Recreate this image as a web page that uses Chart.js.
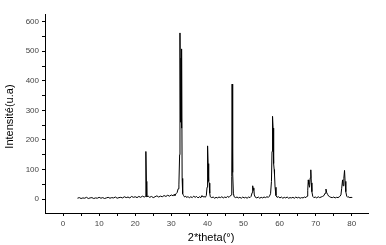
<!DOCTYPE html>
<html>
<head>
<meta charset="utf-8">
<script src="https://cdn.jsdelivr.net/npm/chart.js@4"></script>
<style>
  html, body { margin: 0; padding: 0; background: #fff; }
  #xrd { display: block; }
</style>
</head>
<body>
<canvas id="xrd" width="386" height="245"></canvas>
<script>
// diffractogram (2theta in degrees, intensity in u.a)
const twoTheta = [
  4.0, 4.5, 5.0, 5.5, 6.0, 6.5, 7.0, 7.5, 8.0, 8.5, 9.0, 9.5, 10.0, 10.5, 11.0, 11.5,
  12.0, 12.5, 13.0, 13.5, 14.0, 14.5, 15.0, 15.5, 16.0, 16.5, 17.0, 17.5, 18.0, 18.5,
  19.0, 19.5, 20.0, 20.5, 21.0, 21.5, 22.0, 22.5, 22.8, 22.95, 23.1, 23.2, 23.6, 24.0,
  24.5, 25.0, 25.5, 26.0, 26.5, 27.0, 27.5, 28.0, 28.5, 29.0, 29.5, 30.0, 30.5, 30.8,
  31.0, 31.3, 31.6, 31.9, 32.1, 32.3, 32.4, 32.55, 32.7, 32.8, 32.9, 33.0, 33.15, 33.4,
  33.7, 34.0, 34.3, 34.6, 35.0, 35.4, 35.8, 36.2, 36.6, 37.0, 37.4, 37.8, 38.2, 38.5,
  38.8, 39.1, 39.4, 39.7, 39.9, 40.05, 40.2, 40.35, 40.5, 40.65, 40.8, 41.2, 41.6, 42.0,
  42.4, 42.8, 43.2, 43.6, 44.0, 44.4, 44.8, 45.2, 45.6, 46.0, 46.3, 46.6, 46.75, 46.85,
  46.95, 47.05, 47.2, 47.4, 47.8, 48.2, 48.6, 49.0, 49.4, 49.8, 50.2, 50.6, 51.0, 51.4,
  51.8, 52.1, 52.4, 52.55, 52.7, 52.85, 53.0, 53.3, 53.7, 54.1, 54.5, 54.9, 55.3, 55.7,
  56.1, 56.5, 56.9, 57.2, 57.5, 57.75, 57.9, 58.05, 58.2, 58.35, 58.5, 58.6, 58.75, 59.0,
  59.3, 59.7, 60.1, 60.5, 60.9, 61.3, 61.7, 62.1, 62.5, 62.9, 63.3, 63.7, 64.1, 64.5,
  64.9, 65.3, 65.7, 66.1, 66.5, 66.9, 67.3, 67.6, 67.8, 67.95, 68.1, 68.3, 68.5, 68.65,
  68.8, 68.95, 69.2, 69.5, 69.9, 70.3, 70.7, 71.1, 71.5, 71.9, 72.3, 72.6, 72.85, 73.05,
  73.3, 73.6, 73.9, 74.2, 74.6, 75.0, 75.4, 75.8, 76.2, 76.6, 77.0, 77.2, 77.45, 77.6,
  77.8, 78.0, 78.15, 78.35, 78.6, 78.9, 79.2, 79.5, 79.8, 80.0
];
const intensity = [
  3, 5, 2, 4, 3, 6, 2, 4, 5, 2, 4, 3, 6, 3, 5, 2,
  4, 6, 3, 5, 4, 7, 3, 5, 6, 4, 8, 5, 7, 4,
  9, 6, 8, 5, 9, 6, 10, 7, 9, 161, 60, 8, 10, 6,
  9, 5, 8, 11, 7, 10, 8, 12, 9, 13, 10, 14, 11, 16,
  12, 18, 22, 35, 48, 150, 562, 260, 477, 240, 508, 70, 18, 12,
  7, 10, 5, 9, 4, 8, 5, 10, 6, 9, 4, 8, 5, 12,
  7, 9, 6, 12, 40, 180, 120, 60, 54, 20, 8, 5, 7, 3,
  6, 4, 7, 5, 8, 4, 7, 5, 9, 6, 10, 14, 76, 389,
  296, 90, 20, 8, 5, 7, 4, 6, 3, 7, 4, 6, 3, 7,
  5, 9, 22, 45, 30, 38, 14, 6, 4, 7, 3, 6, 4, 7,
  5, 8, 6, 10, 18, 60, 161, 280, 240, 120, 100, 82, 40, 12,
  6, 8, 4, 7, 3, 6, 4, 7, 3, 5, 4, 6, 3, 7,
  4, 6, 3, 5, 4, 7, 5, 10, 30, 65, 50, 40, 72, 99,
  55, 25, 9, 5, 7, 4, 8, 5, 7, 9, 12, 20, 34, 22,
  16, 10, 8, 6, 5, 7, 4, 6, 5, 8, 14, 35, 65, 45,
  70, 97, 60, 25, 10, 6, 8, 4, 7, 5
];

// axis ticks (labelled every 10 deg / 100 u.a, minor ticks halfway)
const xTicks = [0, 5, 10, 15, 20, 25, 30, 35, 40, 45, 50, 55, 60, 65, 70, 75, 80];
const yTicks = [0, 50, 100, 150, 200, 250, 300, 350, 400, 450, 500, 550, 600];
// the titles sit a little off-centre in the original, the spaces nudge them over
const xTitle = "   2*theta(\u00b0)";
const yTitle = "Intensit\u00e9(u.a)  ";

const tickFont = { family: "Arial, 'Liberation Sans', sans-serif", size: 8 };
const titleFont = { family: "Arial, 'Liberation Sans', sans-serif", size: 11 };

new Chart(document.getElementById("xrd"), {
  type: "line",
  data: {
    datasets: [{
      data: twoTheta.map((t, i) => ({ x: t, y: intensity[i] })),
      borderColor: "#000",
      borderWidth: 1,
      pointRadius: 0,
      tension: 0,
      fill: false,
    }],
  },
  options: {
    responsive: false,
    animation: false,
    layout: { padding: { top: 14, right: 18, left: 0, bottom: 0 } },
    plugins: { legend: { display: false }, tooltip: { enabled: false } },
    scales: {
      x: {
        type: "linear",
        min: -5,
        max: 84.5,
        afterBuildTicks: (scale) => { scale.ticks = xTicks.map((v) => ({ value: v })); },
        afterFit: (scale) => { scale.height = 32; },
        ticks: {
          autoSkip: false,
          maxRotation: 0,
          padding: 3,
          color: "#444",
          font: tickFont,
          callback: (v) => (v % 10 === 0 ? String(v) : ""),
        },
        grid: { drawOnChartArea: false, drawTicks: true, tickLength: 3, tickColor: "#000" },
        border: { display: true, color: "#000", width: 1 },
        title: { display: true, text: xTitle, color: "#000", font: titleFont, padding: { top: 2, bottom: 0 } },
      },
      y: {
        min: -47,
        max: 626,
        afterBuildTicks: (scale) => { scale.ticks = yTicks.map((v) => ({ value: v })); },
        afterFit: (scale) => { scale.width = 45; },
        ticks: {
          autoSkip: false,
          padding: 3,
          color: "#444",
          font: tickFont,
          callback: (v) => (v % 100 === 0 ? String(v) : ""),
        },
        grid: { drawOnChartArea: false, drawTicks: true, tickLength: 3, tickColor: "#000" },
        border: { display: true, color: "#000", width: 1 },
        title: { display: true, text: yTitle, color: "#000", font: titleFont, padding: { top: 3, bottom: 0 } },
      },
    },
  },
});
</script>
</body>
</html>
